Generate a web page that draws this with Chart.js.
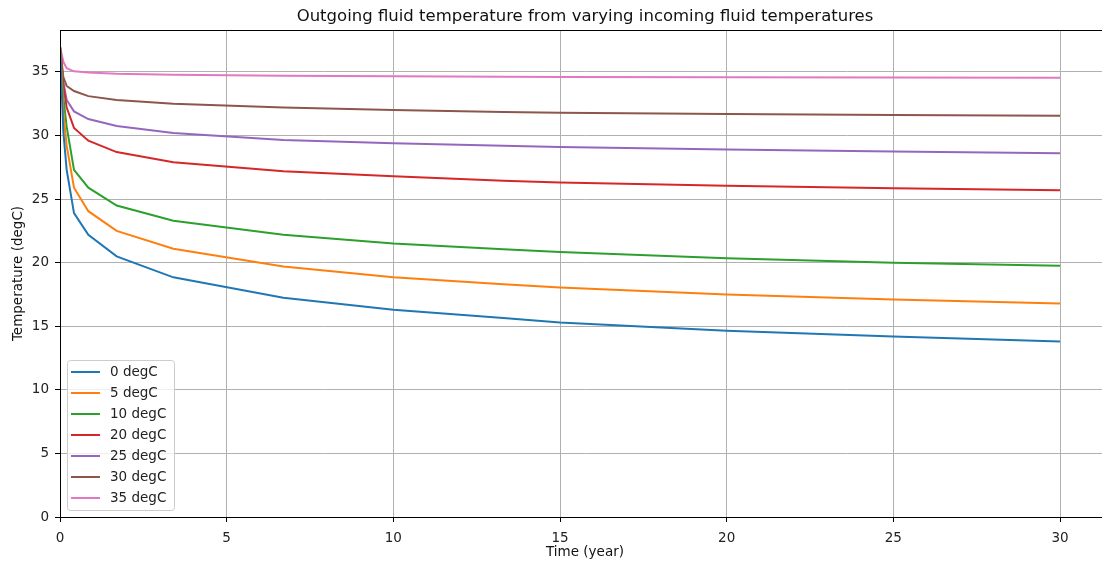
<!DOCTYPE html>
<html lang="en">
<head>
  <meta charset="UTF-8">
  <title>Outgoing fluid temperature</title>
  <script src="https://cdn.jsdelivr.net/npm/chart.js"></script>
  <style>
    html, body { margin: 0; padding: 0; overflow: hidden; background: #fff; }
    #grafico { position: absolute; left: 0; top: 0; }
  </style>
</head>
<body>
  <canvas id="grafico" width="1110" height="563"></canvas>

  <script>
    // time in years, and outgoing temperature for each incoming fluid temperature
    const years = [0, 0.1, 0.2, 0.42, 0.85, 1.7, 3.4, 6.7, 10, 13.3, 15, 20, 25, 30];
    const labels = ['0 degC', '5 degC', '10 degC', '20 degC', '25 degC', '30 degC', '35 degC'];
    const colori = ['#1f77b4', '#ff7f0e', '#2ca02c', '#d62728', '#9467bd', '#8c564b', '#e377c2'];

    const in0  = [37, 30.3, 27.3, 23.9, 22.2, 20.5, 18.85, 17.25, 16.3, 15.65, 15.3, 14.65, 14.2, 13.8];
    const in5  = [37, 31.8, 29.2, 25.9, 24.05, 22.5, 21.1, 19.7, 18.85, 18.3, 18.05, 17.5, 17.1, 16.8];
    const in10 = [37, 33.0, 30.7, 27.3, 25.9, 24.5, 23.3, 22.2, 21.5, 21.05, 20.85, 20.35, 20.0, 19.75];
    const in20 = [37, 34.0, 32.2, 30.6, 29.6, 28.7, 27.9, 27.2, 26.8, 26.45, 26.3, 26.05, 25.85, 25.7];
    const in25 = [37, 34.2, 32.8, 31.9, 31.3, 30.75, 30.2, 29.65, 29.4, 29.2, 29.1, 28.9, 28.75, 28.6];
    const in30 = [37, 34.6, 33.9, 33.5, 33.1, 32.8, 32.5, 32.2, 32.0, 31.85, 31.8, 31.7, 31.62, 31.55];
    const in35 = [37, 35.8, 35.3, 35.05, 34.95, 34.85, 34.78, 34.7, 34.66, 34.62, 34.6, 34.58, 34.56, 34.55];
    const serie = [in0, in5, in10, in20, in25, in30, in35];

    const xTicks = [0, 5, 10, 15, 20, 25, 30];
    const yTicks = [0, 5, 10, 15, 20, 25, 30, 35];

    const font = 'DejaVu Sans';

    // matplotlib-like frame around the plot area
    const cornice = {
      id: 'cornice',
      afterDatasetsDraw(chart) {
        const a = chart.chartArea;
        const ctx = chart.ctx;
        ctx.save();
        ctx.strokeStyle = '#000';
        ctx.lineWidth = 1;
        ctx.strokeRect(a.left + 0.5, a.top + 0.5, a.right - a.left, a.bottom - a.top);
        ctx.restore();
      }
    };

    // legend box in the lower left corner
    const legenda = {
      id: 'legenda',
      afterDraw(chart) {
        const ctx = chart.ctx;
        const a = chart.chartArea;
        const x0 = a.left + 7, y0 = 360, w = 107, h = 150;
        ctx.save();
        ctx.beginPath();
        ctx.roundRect(x0 + 0.5, y0 + 0.5, w, h, 3);
        ctx.fillStyle = 'rgba(255,255,255,0.8)';
        ctx.fill();
        ctx.strokeStyle = '#cccccc';
        ctx.lineWidth = 1;
        ctx.stroke();
        ctx.font = '13.5px "' + font + '"';
        ctx.textBaseline = 'middle';
        ctx.fillStyle = '#222';
        chart.data.datasets.forEach((ds, i) => {
          const y = y0 + 12 + i * 21;
          ctx.strokeStyle = ds.borderColor;
          ctx.lineWidth = 2;
          ctx.beginPath();
          ctx.moveTo(x0 + 4, y);
          ctx.lineTo(x0 + 33, y);
          ctx.stroke();
          ctx.fillText(ds.label, x0 + 43, y);
        });
        ctx.restore();
      }
    };

    const grafico = new Chart(document.getElementById('grafico'), {
      type: 'line',
      data: {
        datasets: serie.map((s, i) => ({
          label: labels[i],
          data: s.map((v, j) => ({ x: years[j], y: v })),
          borderColor: colori[i],
          backgroundColor: colori[i],
          borderWidth: 2,
          pointRadius: 0,
          tension: 0,
          fill: false
        }))
      },
      options: {
        responsive: false,
        animation: false,
        layout: { padding: 0 },
        plugins: {
          legend: { display: false },
          tooltip: { enabled: false },
          title: {
            display: true,
            fullSize: false,
            text: 'Outgoing fluid temperature from varying incoming fluid temperatures',
            color: '#111',
            font: { family: font, size: 16.5, weight: 'normal' },
            padding: { top: 7, bottom: 3.2 }
          }
        },
        scales: {
          x: {
            type: 'linear',
            min: 0,
            max: 31.5,
            afterBuildTicks: (s) => { s.ticks = xTicks.map(v => ({ value: v })); },
            afterFit: (s) => { s.height = 46; },
            ticks: { color: '#222', padding: 8, maxRotation: 0, font: { family: font, size: 13.5 } },
            grid: { color: '#b0b0b0', tickColor: '#000', tickLength: 5, lineWidth: 1 },
            border: { color: '#000', width: 1 },
            title: {
              display: true,
              text: 'Time (year)',
              color: '#111',
              font: { family: font, size: 13.5 },
              padding: { top: 0, bottom: 2 }
            }
          },
          y: {
            min: 0,
            max: 38.3,
            afterBuildTicks: (s) => { s.ticks = yTicks.map(v => ({ value: v })); },
            afterFit: (s) => { s.width = 60; },
            ticks: { color: '#222', padding: 6, font: { family: font, size: 13.5 } },
            grid: { color: '#b0b0b0', tickColor: '#000', tickLength: 5, lineWidth: 1 },
            border: { color: '#000', width: 1 },
            title: {
              display: true,
              text: 'Temperature (degC)',
              color: '#111',
              font: { family: font, size: 13.5 },
              padding: { top: 10, bottom: 0 }
            }
          }
        }
      },
      plugins: [cornice, legenda]
    });
  </script>
</body>
</html>
